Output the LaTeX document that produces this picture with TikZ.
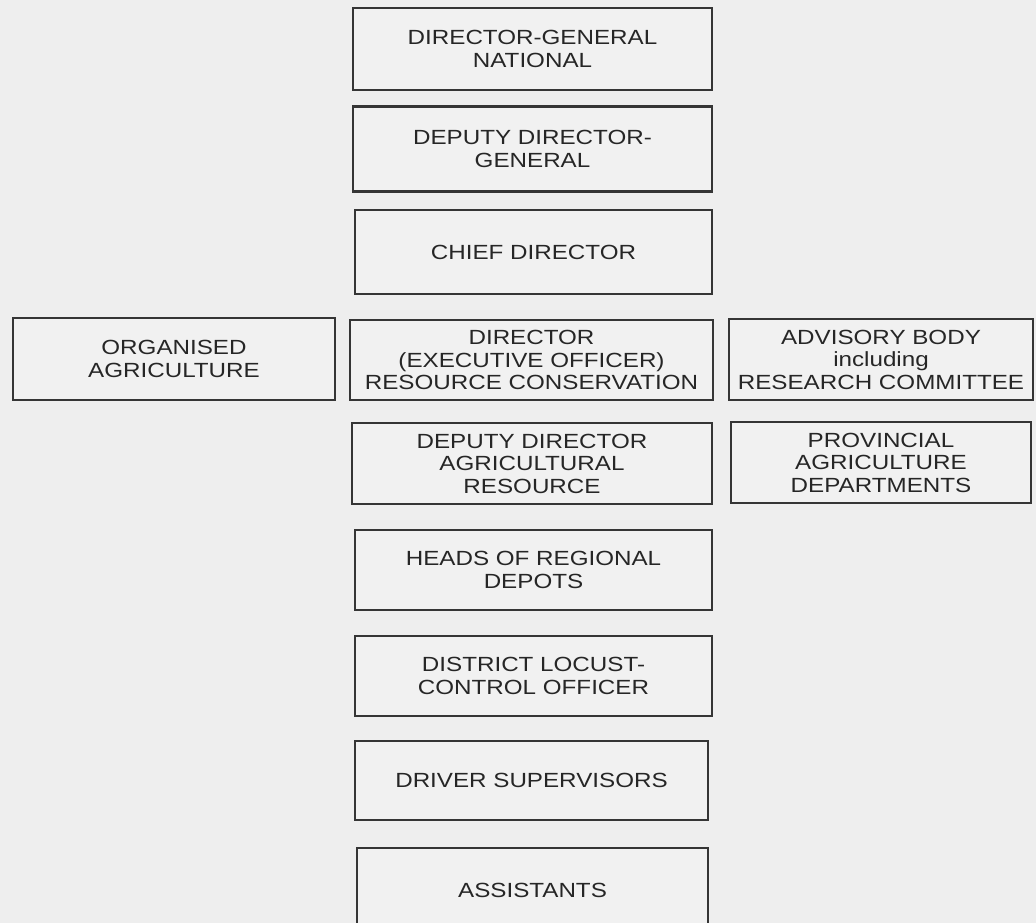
\documentclass[tikz,border=0pt]{standalone}
\usepackage{fontspec}
\setmainfont[FakeStretch=1.18]{Liberation Sans}
\definecolor{bg}{HTML}{EEEEEE}
\definecolor{boxfill}{HTML}{F1F1F1}
\definecolor{edge}{HTML}{353535}
\definecolor{txt}{HTML}{262626}
\begin{document}
\begin{tikzpicture}[x=1pt,y=-1pt,
  box/.style={draw=edge, fill=boxfill, line width=2.4pt, rectangle, inner sep=0pt,
    align=center, text=txt, font=\fontsize{20.5}{22.5}\selectfont}]
\clip (0,0) rectangle (1036,923);
\fill[bg] (0,0) rectangle (1036,923);
\node[box, minimum width=359pt, minimum height=82pt] (dg) at (532.5,49) {DIRECTOR-GENERAL\\NATIONAL};
\node[box, minimum width=359pt, minimum height=85pt] (ddg) at (532.5,149) {DEPUTY DIRECTOR-\\GENERAL};
\node[box, minimum width=357pt, minimum height=84pt] (cd) at (533.5,252) {CHIEF DIRECTOR};
\node[box, minimum width=322pt, minimum height=82pt] (oa) at (174,359) {ORGANISED\\AGRICULTURE};
\node[box, minimum width=363pt, minimum height=80pt] (dir) at (531.5,360) {DIRECTOR\\(EXECUTIVE OFFICER)\\RESOURCE CONSERVATION};
\node[box, minimum width=304pt, minimum height=81pt] (adv) at (881,359.5) {ADVISORY BODY\\including\\RESEARCH COMMITTEE};
\node[box, minimum width=360pt, minimum height=81pt] (dd) at (532,463.5) {DEPUTY DIRECTOR\\AGRICULTURAL\\RESOURCE};
\node[box, minimum width=300pt, minimum height=81pt] (pad) at (881,462.5) {PROVINCIAL\\AGRICULTURE\\DEPARTMENTS};
\node[box, minimum width=357pt, minimum height=80pt] (hrd) at (533.5,570) {HEADS OF REGIONAL\\DEPOTS};
\node[box, minimum width=357pt, minimum height=80pt] (dlc) at (533.5,676) {DISTRICT LOCUST-\\CONTROL OFFICER};
\node[box, minimum width=353pt, minimum height=79pt] (drv) at (531.5,780.5) {DRIVER SUPERVISORS};
\node[box, minimum width=351pt, minimum height=100pt] (ast) at (532.5,898) {};
\node[text=txt, font=\fontsize{20.5}{22.5}\selectfont] (astt) at (532.5,890) {ASSISTANTS};
\end{tikzpicture}
\end{document}
